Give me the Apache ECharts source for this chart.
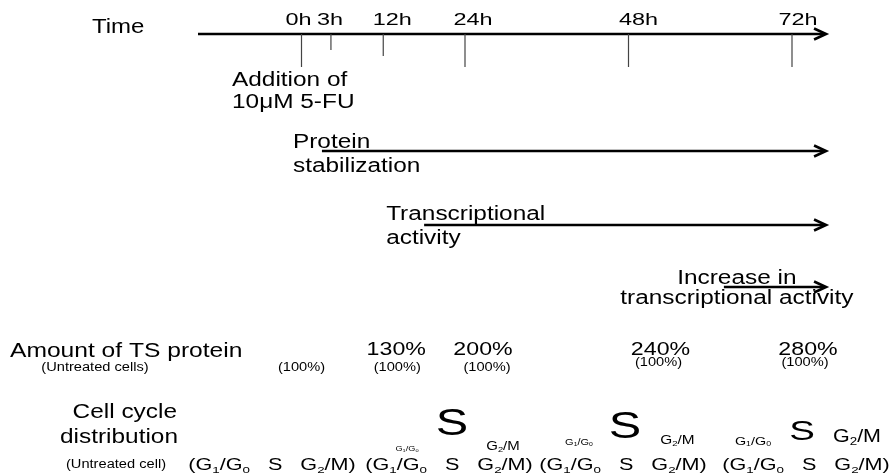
<!DOCTYPE html>
<html><head><meta charset="utf-8">
<script src="https://cdn.jsdelivr.net/npm/echarts@6/dist/echarts.min.js"></script>
<style>html,body{margin:0;padding:0;background:#fff}#c{width:891px;height:476px}</style>
</head><body><div id="c"></div>
<script>
// ---------------- data ----------------
const timeLabels = ['0h', '3h', '12h', '24h', '48h', '72h'];
const timeHours = [0, 3, 12, 24, 48, 72];

const processLines = [['Protein', 'stabilization'], ['Transcriptional', 'activity'], ['Increase in', 'transcriptional activity']];
const processStart = [3, 18, 62];
const processEnd = [77, 77, 77];

const tsTimes = [0, 12, 24, 48, 72];
const tsTreated = [null, 130, 200, 240, 280];
const tsUntreated = [100, 100, 100, 100, 100];

const cycleTimes = [0, 24, 48, 72];
// relative emphasis of each phase in treated cells (1 = untreated)
const cycleG1 = [null, 0.44, 0.53, 0.69];
const cycleS = [null, 2.25, 2.25, 1.78];
const cycleG2M = [null, 0.78, 0.8, 1.12];

// ---------------- layout / style ----------------
const FONT = '"Liberation Sans", Arial, Helvetica, sans-serif';
const PX_PER_H = 6.8125, X0 = 301.5, W = 891, H = 476;
const L = {
  titleX: 92, titleY: 27,
  axisY: 34, axisStartPx: 198,
  tickLabelY: 20, tickEnd: [67, 50, 56, 67, 67, 67], tickDx: [0, 9, 0, 0, 0, 0],
  tickLabelDx: [-3, -1, 9, 8, 10, 6],
  addDx: -69.5, addY: [80, 102],
  procY: [151, 225, 287],
  procLabel: [{dx: -29, align: 'left', y: [142, 166]}, {dx: -38, align: 'left', y: [214.5, 238.5]}, {dx: 13, align: 'center', y: [278.5, 298.5]}],
  tsTitleY: 351.5, tsY: 350, tsSubY: [368, 368, 368, 363, 363],
  tsDx: [0, 13, 18, 32, 16], tsSubDx: [0, 14, 22, 30, 13],
  cycTitleY: [412.5, 437], cycTitleRight: 178, cycSubY: 465,
  cycBottomY: 466, cycDx: [-29.5, -16, -5.5, 14],
  cycSDx: [0, -13, -3.5, 10], cycSY: [0, 425.5, 428, 432.5],
  cycG1Dx: [0, -45, -46, -49], cycG1Y: [0, 449, 442.5, 441.5],
  cycG2Dx: [0, 51, 52.5, 55], cycG2Y: [0, 447, 440, 437],
  baseCycleFont: 16
};

function txt(text, x, y, size, o) {
  o = o || {};
  const st = {text: text, fontSize: size, fontFamily: FONT, fill: o.fill || '#000',
    align: o.align || 'center', verticalAlign: 'middle'};
  if (o.rich) st.rich = o.rich;
  return {type: 'text', x: x, y: y, scaleX: o.sx == null ? 1.22 : o.sx, style: st};
}
function arrow(x1, x2, y, lw) {
  return [
    {type: 'line', shape: {x1: x1, y1: y, x2: x2 - 1, y2: y}, style: {stroke: '#000', lineWidth: lw}},
    {type: 'polyline', shape: {points: [[x2 - 12, y - 5.5], [x2, y], [x2 - 12, y + 5.5]]},
      style: {stroke: '#000', lineWidth: lw, fill: 'none'}}
  ];
}
function phaseText(main, sub, rest, size) {
  // builds rich text like G{sub}rest
  return '{p|' + main + '}{s|' + sub + '}{p|' + rest + '}';
}
function richFor(size) {
  return {
    p: {fontSize: size, fontFamily: FONT, lineHeight: size * 1.4, fill: '#000'},
    s: {fontSize: size * 0.62, fontFamily: FONT, lineHeight: size * 1.4, padding: [size * 0.52, 0, 0, 0], fill: '#000'}
  };
}

function renderAll(params, api) {
  const c = (h, y) => api.coord([h, y]);
  const ch = [];
  // --- Time axis ---
  ch.push(txt('Time', L.titleX, L.titleY, 20, {align: 'left', sx: 1.2}));
  const axisEnd = c(processEnd[0], L.axisY)[0];
  ch.push(...arrow(L.axisStartPx, axisEnd, L.axisY, 2.6));
  timeHours.forEach((h, i) => {
    const p = c(h, L.axisY);
    const x = p[0] + L.tickDx[i];
    ch.push({type: 'line', shape: {x1: x, y1: L.axisY, x2: x, y2: L.tickEnd[i]}, style: {stroke: '#444', lineWidth: 1.2}});
    ch.push(txt(timeLabels[i], x + L.tickLabelDx[i], L.tickLabelY, 17, {sx: 1.38}));
  });
  const a0 = c(0, 0)[0] + L.addDx;
  ch.push(txt('Addition of', a0, L.addY[0], 20, {align: 'left'}));
  ch.push(txt('10μM 5-FU', a0, L.addY[1], 20, {align: 'left'}));
  // --- processes ---
  processStart.forEach((h, i) => {
    const x1 = c(h, 0)[0], x2 = c(processEnd[i], 0)[0];
    ch.push(...arrow(x1, x2, L.procY[i], 2.6));
    const lb = L.procLabel[i];
    processLines[i].forEach((line, j) => {
      ch.push(txt(line, x1 + lb.dx, lb.y[j], 20, {align: lb.align}));
    });
  });
  // --- TS protein ---
  ch.push(txt('Amount of TS protein', 10, L.tsTitleY, 20, {align: 'left', sx: 1.23}));
  ch.push(txt('(Untreated cells)', 95, 368, 12, {sx: 1.22}));
  tsTimes.forEach((h, i) => {
    const x = c(h, 0)[0];
    if (tsTreated[i] != null) ch.push(txt(tsTreated[i] + '%', x + L.tsDx[i], L.tsY, 19, {sx: 1.22}));
    ch.push(txt('(' + tsUntreated[i] + '%)', x + L.tsSubDx[i], L.tsSubY[i], 12, {sx: 1.22}));
  });
  // --- cell cycle ---
  ch.push(txt('Cell cycle', L.cycTitleRight - 1, L.cycTitleY[0], 20, {align: 'right'}));
  ch.push(txt('distribution', L.cycTitleRight, L.cycTitleY[1], 20, {align: 'right'}));
  ch.push(txt('(Untreated cell)', 116, L.cycSubY, 12, {sx: 1.22}));
  const bf = L.baseCycleFont;
  cycleTimes.forEach((h, i) => {
    const x = c(h, 0)[0];
    const s = '{p|(G}{s|1}{p|/G}{s|0}{p|   S   G}{s|2}{p|/M)}';
    ch.push(txt(s, x + L.cycDx[i], L.cycBottomY, bf, {sx: 1.35, rich: richFor(bf)}));
    if (cycleS[i] != null) {
      const sx = x + L.cycSDx[i];
      ch.push(txt('S', sx, L.cycSY[i], bf * cycleS[i], {sx: 1.35}));
      const g1 = bf * cycleG1[i];
      ch.push(txt('{p|G}{s|1}{p|/G}{s|0}', sx + L.cycG1Dx[i], L.cycG1Y[i], g1, {sx: 1.3, rich: richFor(g1)}));
      const g2 = bf * cycleG2M[i];
      ch.push(txt('{p|G}{s|2}{p|/M}', sx + L.cycG2Dx[i], L.cycG2Y[i], g2, {sx: 1.2, rich: richFor(g2)}));
    }
  });
  return {type: 'group', children: ch};
}

const chart = echarts.init(document.getElementById('c'));
chart.setOption({
  animation: false,
  backgroundColor: '#fff',
  grid: {left: 0, right: 0, top: 0, bottom: 0},
  xAxis: {type: 'value', min: -X0 / PX_PER_H, max: (W - X0) / PX_PER_H, show: false},
  yAxis: {type: 'value', min: 0, max: H, inverse: true, show: false},
  series: [{type: 'custom', coordinateSystem: 'cartesian2d', clip: false, silent: true,
    renderItem: renderAll, data: [[0, 0]]}]
});
</script></body></html>
